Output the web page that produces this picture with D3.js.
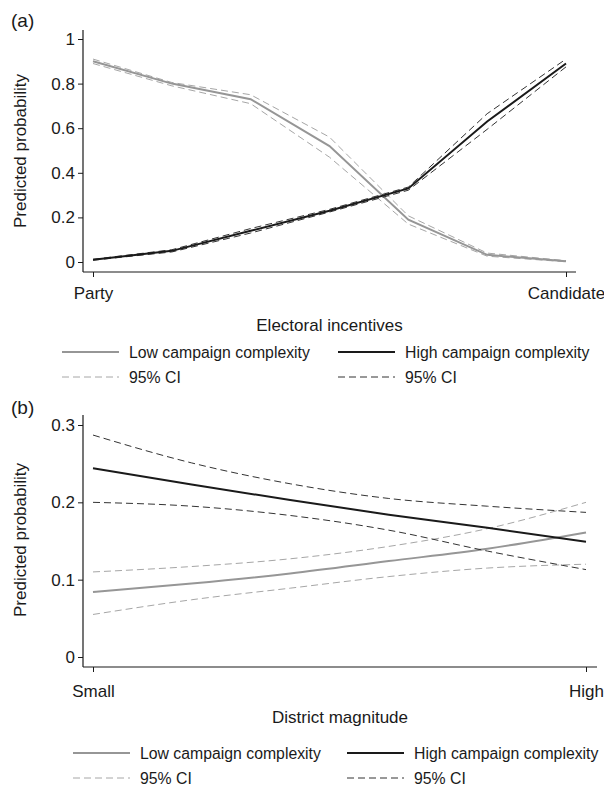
<!DOCTYPE html>
<html>
<head>
<meta charset="utf-8">
<script src="https://cdn.jsdelivr.net/npm/d3@7"></script>
<style>
  body { margin: 0; background: #fff; }
  svg text { font-family: "Liberation Sans", Arial, sans-serif; fill: #1a1a1a; }
</style>
</head>
<body>
<div id="chart"></div>
<script>
// ---- panel (a): electoral incentives ----
let incentiveSteps = [0, 1, 2, 3, 4, 5, 6];
let incentiveLabels = ["Party", "Candidate"];
let lowA = [0.90, 0.80, 0.73, 0.52, 0.19, 0.032, 0.003];
let lowAUpper = [0.91, 0.805, 0.75, 0.56, 0.207, 0.04, 0.006];
let lowALower = [0.89, 0.79, 0.71, 0.47, 0.17, 0.026, 0.001];
let highA = [0.01, 0.05, 0.14, 0.23, 0.33, 0.63, 0.89];
let highAUpper = [0.012, 0.055, 0.15, 0.236, 0.336, 0.665, 0.91];
let highALower = [0.008, 0.045, 0.13, 0.224, 0.322, 0.595, 0.875];
let probTicksA = [0, 0.2, 0.4, 0.6, 0.8, 1];

// ---- panel (b): district magnitude ----
let magnitudeSteps = [0, 0.2, 0.4, 0.6, 0.8, 1];
let magnitudeLabels = ["Small", "High"];
let lowB = [0.084, 0.095, 0.108, 0.124, 0.140, 0.161];
let lowBUpper = [0.110, 0.117, 0.127, 0.143, 0.166, 0.200];
let lowBLower = [0.055, 0.074, 0.089, 0.104, 0.115, 0.120];
let highB = [0.244, 0.223, 0.203, 0.184, 0.167, 0.149];
let highBUpper = [0.287, 0.251, 0.224, 0.205, 0.195, 0.187];
let highBLower = [0.200, 0.195, 0.183, 0.164, 0.137, 0.113];
let probTicksB = [0, 0.1, 0.2, 0.3];

let legendLabels = ["Low campaign complexity", "High campaign complexity", "95% CI", "95% CI"];

let width = 604,
  height = 786,
  labelSize = 17,
  legendSize = 15.8;

let grayLine = "#969696",
  grayDash = "#a6a6a6",
  blackLine = "#1a1a1a",
  blackDash = "#333333";

let svg = d3.select("#chart")
  .append("svg")
  .attr("width", width)
  .attr("height", height);

function drawPanel(p) {
  let g = svg.append("g");

  let x = d3.scaleLinear()
    .domain(d3.extent(p.steps))
    .range([p.x0, p.x1]);

  let y = d3.scaleLinear()
    .domain(p.yDomain)
    .range([p.y0, p.y1]);

  // frame lines
  g.append("line")
    .attr("x1", p.axisX).attr("x2", p.axisX)
    .attr("y1", p.top).attr("y2", p.axisY)
    .attr("stroke", "#1a1a1a").attr("stroke-width", 1.2);
  g.append("line")
    .attr("x1", p.axisX).attr("x2", p.right)
    .attr("y1", p.axisY).attr("y2", p.axisY)
    .attr("stroke", "#1a1a1a").attr("stroke-width", 1.2);

  let yAxis = g.append("g")
    .attr("transform", `translate(${p.axisX},0)`)
    .call(d3.axisLeft(y)
      .tickValues(p.yTicks)
      .tickFormat(d3.format("~g"))
      .tickSize(5)
      .tickPadding(3));

  let ends = d3.extent(p.steps);
  let xAxis = g.append("g")
    .attr("transform", `translate(0,${p.axisY})`)
    .call(d3.axisBottom(x)
      .tickValues(ends)
      .tickFormat((d, i) => p.xLabels[i])
      .tickSize(5)
      .tickPadding(p.xPad));

  [yAxis, xAxis].forEach(a => {
    a.select(".domain").remove();
    a.selectAll("line").attr("stroke", "#1a1a1a");
    a.selectAll("text")
      .style("font-size", labelSize + "px")
      .style("font-family", "'Liberation Sans', Arial, sans-serif")
      .attr("fill", "#1a1a1a");
  });

  let line = d3.line()
    .x((d, i) => x(p.steps[i]))
    .y(d => y(d))
    .curve(p.curve);

  let series = [
    { v: p.lowUpper, color: grayDash, w: 1, dash: "7,4" },
    { v: p.lowLower, color: grayDash, w: 1, dash: "7,4" },
    { v: p.low, color: grayLine, w: 2, dash: null },
    { v: p.highUpper, color: blackDash, w: 1, dash: "7,4" },
    { v: p.highLower, color: blackDash, w: 1, dash: "7,4" },
    { v: p.high, color: blackLine, w: 2, dash: null }
  ];

  g.selectAll("path.series")
    .data(series)
    .join("path")
    .attr("class", "series")
    .attr("d", d => line(d.v))
    .attr("fill", "none")
    .attr("stroke", d => d.color)
    .attr("stroke-width", d => d.w)
    .attr("stroke-dasharray", d => d.dash);

  // panel letter
  g.append("text")
    .text(p.letter)
    .attr("x", 11)
    .attr("y", p.letterY)
    .style("font-size", "19px");

  // y title
  g.append("text")
    .text("Predicted probability")
    .attr("transform", `translate(26,${p.yTitleY}) rotate(-90)`)
    .attr("text-anchor", "middle")
    .style("font-size", labelSize + "px");

  // x title
  g.append("text")
    .text(p.xTitle)
    .attr("x", (p.axisX + p.right) / 2)
    .attr("y", p.xTitleY)
    .attr("text-anchor", "middle")
    .style("font-size", labelSize + "px");

  // legend
  let items = [
    { x: p.legX[0], y: p.legY[0], color: grayLine, w: 2, dash: null },
    { x: p.legX[1], y: p.legY[0], color: blackLine, w: 2, dash: null },
    { x: p.legX[0], y: p.legY[1], color: grayDash, w: 1, dash: "7,4" },
    { x: p.legX[1], y: p.legY[1], color: blackDash, w: 1, dash: "7,4" }
  ];

  let leg = g.selectAll("g.leg")
    .data(items)
    .join("g")
    .attr("class", "leg")
    .attr("transform", d => `translate(${d.x},${d.y})`);

  leg.append("line")
    .attr("x1", 0).attr("x2", 57)
    .attr("y1", 0).attr("y2", 0)
    .attr("stroke", d => d.color)
    .attr("stroke-width", d => d.w)
    .attr("stroke-dasharray", d => d.dash);

  leg.append("text")
    .text((d, i) => legendLabels[i])
    .attr("x", 67)
    .attr("dy", "0.35em")
    .style("font-size", legendSize + "px");
}

drawPanel({
  letter: "(a)", letterY: 27,
  steps: incentiveSteps, xLabels: incentiveLabels,
  low: lowA, lowUpper: lowAUpper, lowLower: lowALower,
  high: highA, highUpper: highAUpper, highLower: highALower,
  yDomain: [0, 1], yTicks: probTicksA,
  x0: 93, x1: 566, y0: 262, y1: 39,
  axisX: 83, axisY: 272, top: 30, right: 576,
  xPad: 10, curve: d3.curveLinear,
  yTitleY: 151, xTitle: "Electoral incentives", xTitleY: 331,
  legX: [62, 338], legY: [352, 377]
});

drawPanel({
  letter: "(b)", letterY: 414,
  steps: magnitudeSteps, xLabels: magnitudeLabels,
  low: lowB, lowUpper: lowBUpper, lowLower: lowBLower,
  high: highB, highUpper: highBUpper, highLower: highBLower,
  yDomain: [0, 0.3], yTicks: probTicksB,
  x0: 93, x1: 586, y0: 657, y1: 425,
  axisX: 83, axisY: 667, top: 415, right: 597,
  xPad: 13, curve: d3.curveMonotoneX,
  yTitleY: 540, xTitle: "District magnitude", xTitleY: 723,
  legX: [73, 347], legY: [753, 778]
});
</script>
</body>
</html>
